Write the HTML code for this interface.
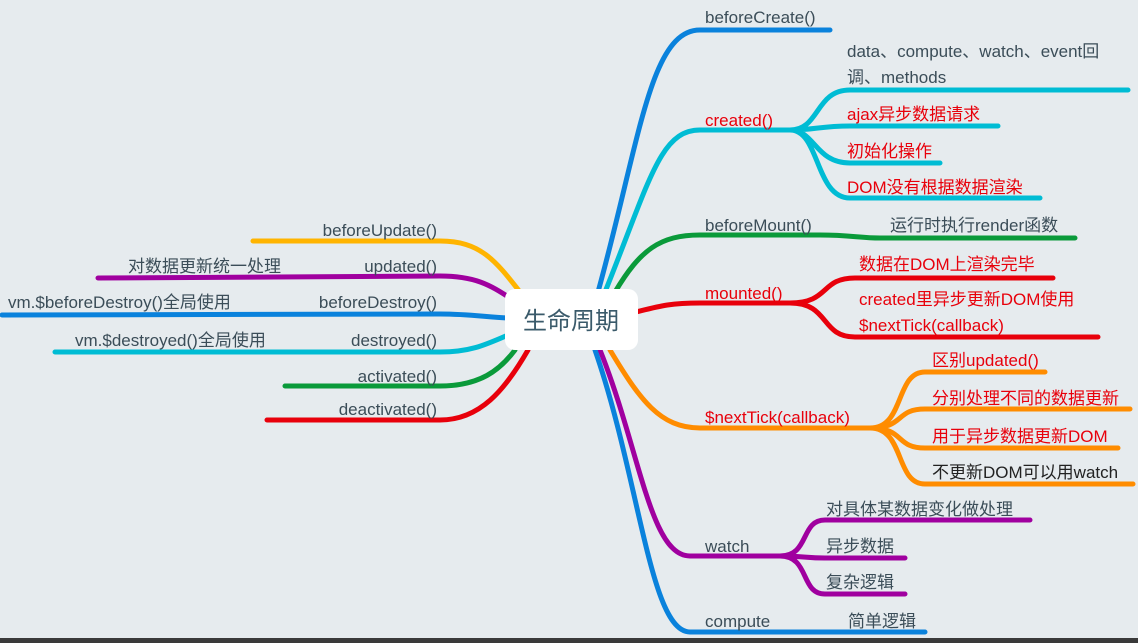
<!DOCTYPE html>
<html><head><meta charset="utf-8"><style>
html,body{margin:0;padding:0;background:#e6ebee;}
svg{display:block}
text{font-family:"Liberation Sans","Noto Sans CJK SC",sans-serif;font-size:17px;fill:#3b4d58}
.r{fill:#e8000b}
.e{text-anchor:end}
path{fill:none;stroke-width:5;stroke-linecap:round}
</style></head><body>
<svg width="1138" height="643" viewBox="0 0 1138 643">
<rect width="1138" height="643" fill="#e6ebee"/>
<path d="M598 292 C640 140 650 30 700 30 L830 30" stroke="#0a82dc"/>
<path d="M605 292 C650 180 660 130 700 130 L790 130" stroke="#00bcd4"/>
<path d="M790 130 C820 130 815 90 850 90 L1128 90 M790 130 C815 130 820 126 850 126 L998 126 M790 130 C815 130 815 163 850 163 L940 163 M790 130 C820 130 815 198 850 198 L1040 198" stroke="#00bcd4"/>
<path d="M615 292 C640 250 660 235 700 235 L820 235 C850 235 860 238 880 238 L1075 238" stroke="#0a9a3a"/>
<path d="M636 312 C660 306 670 303 700 303 L790 303" stroke="#e8000b"/>
<path d="M790 303 C830 303 820 278 855 278 L1053 278 M790 303 C830 303 820 337 855 337 L1098 337" stroke="#e8000b"/>
<path d="M610 350 C640 400 660 428 700 428 L870 428" stroke="#ff8c00"/>
<path d="M870 428 C905 428 895 372 925 372 L1045 372 M870 428 C905 428 895 409 925 409 L1130 409 M870 428 C905 428 895 448 925 448 L1118 448 M870 428 C905 428 895 484 925 484 L1133 484" stroke="#ff8c00"/>
<path d="M600 350 C640 450 650 556 690 556 L780 556" stroke="#a0009f"/>
<path d="M780 556 C810 556 800 520 825 520 L1030 520 M780 556 C805 556 805 558 825 558 L905 558 M780 556 C810 556 800 594 825 594 L905 594" stroke="#a0009f"/>
<path d="M595 350 C640 480 650 632 690 632 L925 632" stroke="#0a82dc"/>
<path d="M253 241 L440 241 C480 241 495 260 520 292" stroke="#ffb400"/>
<path d="M98 278 L440 276 C475 276 490 285 510 298" stroke="#a0009f"/>
<path d="M2 315 L440 314 C470 314 485 317 508 318" stroke="#0a82dc"/>
<path d="M55 352 L440 352 C470 352 485 345 508 335" stroke="#00bcd4"/>
<path d="M285 386 L440 386 C480 386 500 370 515 350" stroke="#0a9a3a"/>
<path d="M267 420 L440 420 C480 420 505 390 528 350" stroke="#e8000b"/>
<rect x="505" y="289" width="133" height="61" rx="10" fill="#fff"/>
<text x="571" y="329" text-anchor="middle" style="font-size:24px;fill:#3a5a6a">生命周期</text>
<text x="705" y="23">beforeCreate()</text>
<text x="705" y="126" class="r">created()</text>
<text x="847" y="57">data、compute、watch、event回</text>
<text x="847" y="83">调、methods</text>
<text x="847" y="120" class="r">ajax异步数据请求</text>
<text x="847" y="157" class="r">初始化操作</text>
<text x="847" y="193" class="r">DOM没有根据数据渲染</text>
<text x="705" y="231">beforeMount()</text>
<text x="890" y="231">运行时执行render函数</text>
<text x="705" y="299" class="r">mounted()</text>
<text x="859" y="270" class="r">数据在DOM上渲染完毕</text>
<text x="859" y="305" class="r">created里异步更新DOM使用</text>
<text x="859" y="331" class="r">$nextTick(callback)</text>
<text x="705" y="423" class="r">$nextTick(callback)</text>
<text x="932" y="366" class="r">区别updated()</text>
<text x="932" y="404" class="r">分别处理不同的数据更新</text>
<text x="932" y="442" class="r">用于异步数据更新DOM</text>
<text x="932" y="478" style="fill:#222">不更新DOM可以用watch</text>
<text x="705" y="552">watch</text>
<text x="826" y="515">对具体某数据变化做处理</text>
<text x="826" y="552">异步数据</text>
<text x="826" y="588">复杂逻辑</text>
<text x="705" y="627">compute</text>
<text x="848" y="627">简单逻辑</text>
<text x="437" y="236" class="e">beforeUpdate()</text>
<text x="128" y="272">对数据更新统一处理</text>
<text x="437" y="272" class="e">updated()</text>
<text x="8" y="308">vm.$beforeDestroy()全局使用</text>
<text x="437" y="308" class="e">beforeDestroy()</text>
<text x="75" y="346">vm.$destroyed()全局使用</text>
<text x="437" y="346" class="e">destroyed()</text>
<text x="437" y="382" class="e">activated()</text>
<text x="437" y="415" class="e">deactivated()</text>
<rect x="0" y="638" width="1138" height="5" fill="#3a3a3a"/>
</svg>
</body></html>
